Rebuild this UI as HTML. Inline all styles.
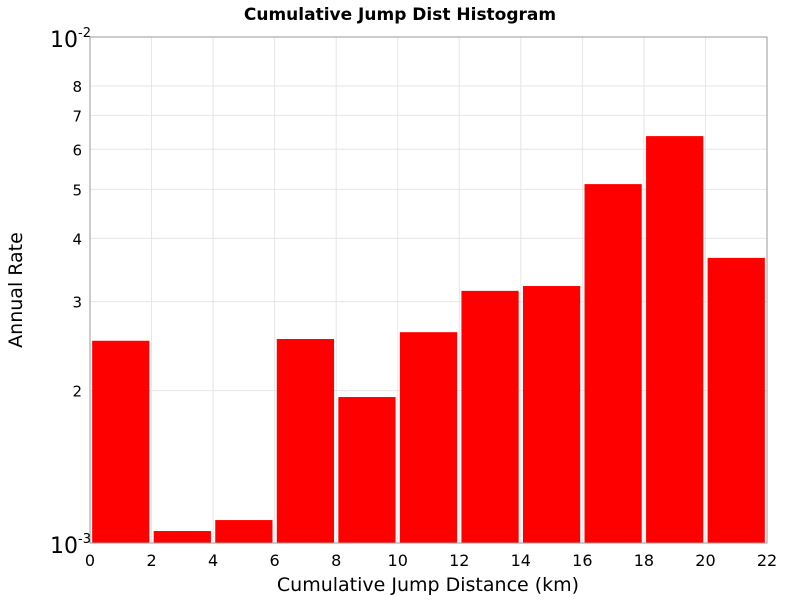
<!DOCTYPE html>
<html><head><meta charset="utf-8"><style>body{margin:0;background:#fff}svg{display:block;font-family:"DejaVu Sans","Liberation Sans",sans-serif}</style></head>
<body>
<svg id="chart" width="800" height="600" xmlns="http://www.w3.org/2000/svg"></svg>
<script>
const binCenters=[1,3,5,7,9,11,13,15,17,19,21];
const rates=[2.51e-3,1.056e-3,1.11e-3,2.53e-3,1.943e-3,2.61e-3,3.15e-3,3.22e-3,5.12e-3,6.37e-3,3.66e-3];
const xTicks=[0,2,4,6,8,10,12,14,16,18,20,22];
const yMinorTicks=[2,3,4,5,6,7,8];
const L=90,R=767,T=37,B=543;
const xs=v=>L+(v-0)/22*(R-L);
const ys=v=>B-(Math.log10(v)+3)*(B-T);
const svg=document.getElementById('chart');
const NS='http://www.w3.org/2000/svg';
function mk(t,a,txt){const e=document.createElementNS(NS,t);for(const k in a)e.setAttribute(k,a[k]);if(txt!==undefined)e.textContent=txt;svg.appendChild(e);return e;}
// grid
xTicks.forEach(t=>{const g=mk('line',{x1:xs(t),x2:xs(t),y1:T,y2:B,stroke:'#e6e6e6'});

});
yMinorTicks.forEach(t=>{const y=ys(t*1e-3);const g=mk('line',{x1:L,x2:R,y1:y,y2:y,stroke:'#e6e6e6'});


const lb=mk('text',{x:L-8,y:y+6,'text-anchor':'end','font-size':15},String(t));

});
// bars
binCenters.forEach((c,i)=>{const x0=xs(c-0.93),x1=xs(c+0.93);const r=mk('rect',{x:x0,y:ys(rates[i]),width:x1-x0,height:B-ys(rates[i]),fill:'#ff0000'});

});
// frame
const f=mk('rect',{x:L,y:T,width:R-L,height:B-T,fill:'none',stroke:'#999'});


xTicks.forEach(t=>{const lb=mk('text',{x:xs(t),y:566,'text-anchor':'middle','font-size':16},String(t));

});
</script>
<svg style="position:absolute;left:0;top:0" width="800" height="600" xmlns="http://www.w3.org/2000/svg" font-family="DejaVu Sans, Liberation Sans, sans-serif">
<text x="400" y="20" text-anchor="middle" font-size="17" font-weight="bold">Cumulative Jump Dist Histogram</text>
<text x="50" y="47" font-size="22">10<tspan dy="-10" font-size="13">-2</tspan></text>
<text x="50" y="553" font-size="22">10<tspan dy="-10" font-size="13">-3</tspan></text>
<text x="428" y="591" text-anchor="middle" font-size="19">Cumulative Jump Distance (km)</text>
<text transform="translate(22,290) rotate(-90)" text-anchor="middle" font-size="19">Annual Rate</text>
</svg>
</body></html>
